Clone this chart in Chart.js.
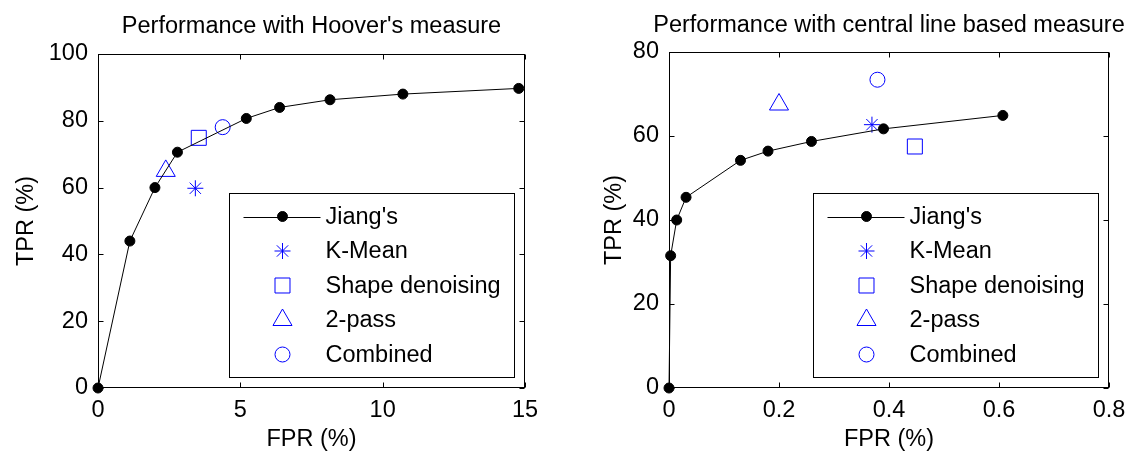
<!DOCTYPE html>
<html>
<head>
<meta charset="utf-8">
<script src="https://cdn.jsdelivr.net/npm/chart.js@4.4.0/dist/chart.umd.min.js"></script>
<style>
  html, body { margin: 0; padding: 0; background: #ffffff; }
  #wrap { position: relative; width: 1135px; height: 454px; overflow: hidden; }
  canvas { position: absolute; top: 0; }
</style>
</head>
<body>
<div id="wrap">
  <canvas id="hoover" width="567" height="454" style="left:0px"></canvas>
  <canvas id="central" width="568" height="454" style="left:567px"></canvas>
</div>
<script>
// ---- Data: Hoover's measure (FPR %, TPR %) ----
const hooverJiangFPR = [0, 1.12, 2.0, 2.79, 5.21, 6.38, 8.15, 10.71, 14.78];
const hooverJiangTPR = [0, 44.0, 60.0, 70.6, 80.7, 84.0, 86.3, 88.0, 89.7];
const hooverKMean    = [3.42, 59.8];
const hooverShape    = [3.54, 74.9];
const hoover2Pass    = [2.38, 65.0];
const hooverCombined = [4.38, 78.1];

// ---- Data: central line based measure (FPR %, TPR %) ----
const centralJiangFPR = [0, 0.003, 0.014, 0.031, 0.13, 0.18, 0.259, 0.39, 0.607];
const centralJiangTPR = [0, 31.5, 40.0, 45.4, 54.2, 56.4, 58.7, 61.7, 64.9];
const centralKMean    = [0.369, 62.7];
const centralShape    = [0.447, 57.5];
const central2Pass    = [0.2, 67.5];
const centralCombined = [0.379, 73.4];

const seriesNames = ["Jiang's", "K-Mean", "Shape denoising", "2-pass", "Combined"];
const titles = ["Performance with Hoover's measure", "Performance with central line based measure"];
const xAxisTitle = "FPR (%)";
const yAxisTitle = "TPR (%)";

// axis ranges / tick steps
const hooverXTicks = { min: 0, max: 15, step: 5 };
const hooverYTicks = { min: 0, max: 100, step: 20 };
const centralXTicks = { min: 0, max: 0.8, step: 0.2 };
const centralYTicks = { min: 0, max: 80, step: 20 };

const FONT = "'Liberation Sans', Arial, Helvetica, sans-serif";
const FS = 23.5;
const BLUE = '#0000ff';

function pairs(xs, ys) { return xs.map((x, i) => ({ x: x, y: ys[i] })); }
function single(p) { return [{ x: p[0], y: p[1] }]; }

function buildDatasets(jx, jy, km, sh, tp, cb) {
  return [
    { label: seriesNames[0], data: pairs(jx, jy), showLine: true, borderColor: '#000', borderWidth: 1,
      pointStyle: 'circle', pointRadius: 5, pointBackgroundColor: '#000', pointBorderColor: '#000', pointBorderWidth: 1 },
    { label: seriesNames[1], data: single(km), showLine: false, pointStyle: 'star', pointRadius: 8,
      pointBorderColor: BLUE, pointBackgroundColor: 'rgba(0,0,0,0)', pointBorderWidth: 1 },
    { label: seriesNames[2], data: single(sh), showLine: false, pointStyle: 'rect', pointRadius: 10.6,
      pointBorderColor: BLUE, pointBackgroundColor: 'rgba(0,0,0,0)', pointBorderWidth: 1 },
    { label: seriesNames[3], data: single(tp), showLine: false, pointStyle: 'triangle', pointRadius: 11,
      pointBorderColor: BLUE, pointBackgroundColor: 'rgba(0,0,0,0)', pointBorderWidth: 1 },
    { label: seriesNames[4], data: single(cb), showLine: false, pointStyle: 'circle', pointRadius: 7.5,
      pointBorderColor: BLUE, pointBackgroundColor: 'rgba(0,0,0,0)', pointBorderWidth: 1 }
  ];
}

// Boxed axes with inward tick marks on all four sides
const frameTicks = {
  id: 'frameTicks',
  beforeDatasetsDraw(chart, args, o) {
    const { ctx, chartArea: a, scales } = chart;
    const L = Math.round(a.left) + 0.5, R = Math.round(a.right) - 0.5;
    const T = Math.round(a.top) + 0.5, B = Math.round(a.bottom) - 0.5;
    ctx.save();
    ctx.strokeStyle = '#000';
    ctx.lineWidth = 1;
    ctx.strokeRect(L, T, R - L, B - T);
    ctx.beginPath();
    scales.x.ticks.forEach(t => {
      const px = Math.round(scales.x.getPixelForValue(t.value)) + 0.5;
      ctx.moveTo(px, B); ctx.lineTo(px, B - o.length);
      ctx.moveTo(px, T); ctx.lineTo(px, T + o.length);
    });
    scales.y.ticks.forEach(t => {
      const py = Math.round(scales.y.getPixelForValue(t.value)) + 0.5;
      ctx.moveTo(L, py); ctx.lineTo(L + o.length, py);
      ctx.moveTo(R, py); ctx.lineTo(R - o.length, py);
    });
    ctx.stroke();
    ctx.restore();
  }
};

// Plot title centred over the axes box
const plotTitle = {
  id: 'plotTitle',
  afterDraw(chart, args, o) {
    const { ctx, chartArea: a } = chart;
    ctx.save();
    ctx.font = FS + 'px ' + FONT;
    ctx.fillStyle = '#000';
    ctx.textAlign = 'center';
    ctx.textBaseline = 'alphabetic';
    ctx.fillText(o.text, (a.left + a.right) / 2 + (o.dx || 0), o.baseline);
    ctx.restore();
  }
};

function drawMarker(ctx, ds, x, y) {
  const opts = { pointStyle: ds.pointStyle, radius: ds.pointRadius, borderWidth: ds.pointBorderWidth, rotation: 0 };
  ctx.fillStyle = ds.pointBackgroundColor;
  ctx.strokeStyle = ds.pointBorderColor;
  ctx.lineWidth = ds.pointBorderWidth;
  Chart.helpers.drawPoint(ctx, opts, x, y);
}

// Legend box anchored in the lower right corner of the axes
const boxLegend = {
  id: 'boxLegend',
  afterDatasetsDraw(chart, args, o) {
    const { ctx, chartArea: a } = chart;
    const items = chart.data.datasets;
    ctx.save();
    ctx.font = FS + 'px ' + FONT;
    const maxW = Math.max(...items.map(d => ctx.measureText(d.label).width));
    const w = Math.round(o.textX + maxW + o.padRight);
    const h = Math.round(o.rowTop * 2 + o.rowGap * (items.length - 1));
    const right = Math.round(a.right - o.inset) + 0.5;
    const bottom = Math.round(a.bottom - o.inset) + 0.5;
    const left = right - w, top = bottom - h;
    ctx.fillStyle = '#fff';
    ctx.fillRect(left, top, w, h);
    ctx.strokeStyle = '#000';
    ctx.lineWidth = 1;
    ctx.strokeRect(left, top, w, h);
    items.forEach((d, i) => {
      const y = top + o.rowTop + i * o.rowGap;
      if (d.showLine) {
        ctx.beginPath();
        ctx.strokeStyle = d.borderColor;
        ctx.lineWidth = d.borderWidth;
        ctx.moveTo(left + o.lineX0, Math.round(y) + 0.5);
        ctx.lineTo(left + o.lineX1, Math.round(y) + 0.5);
        ctx.stroke();
      }
      drawMarker(ctx, d, left + o.markX, y);
      ctx.fillStyle = '#000';
      ctx.textAlign = 'left';
      ctx.textBaseline = 'middle';
      ctx.fillText(d.label, left + o.textX, y + 1);
    });
    ctx.restore();
  }
};

function makeChart(id, datasets, xr, yr, cfg) {
  return new Chart(document.getElementById(id), {
    type: 'scatter',
    data: { datasets: datasets },
    plugins: [frameTicks, boxLegend, plotTitle],
    options: {
      responsive: false,
      animation: false,
      devicePixelRatio: 1,
      layout: { padding: { left: 0, right: cfg.padRight, top: cfg.padTop, bottom: 0 } },
      elements: { line: { tension: 0 } },
      datasets: { scatter: { clip: false } },
      plugins: {
        legend: { display: false },
        tooltip: { enabled: false },
        title: { display: false },
        frameTicks: { length: 5 },
        plotTitle: { text: cfg.title, baseline: cfg.titleBaseline },
        boxLegend: { inset: 11, rowTop: 23, rowGap: 34.5, lineX0: 14, lineX1: 91, markX: 53, textX: 96, padRight: 14 }
      },
      scales: {
        x: {
          type: 'linear', min: xr.min, max: xr.max,
          grid: { display: false, drawTicks: false },
          border: { display: false },
          ticks: { stepSize: xr.step, color: '#000', padding: cfg.xTickPad, font: { family: FONT, size: FS } },
          title: { display: true, text: xAxisTitle, color: '#000', padding: { top: 0, bottom: 0 },
                   font: { family: FONT, size: FS, lineHeight: 1.2 } },
          afterFit(s) { s.height = 66; }
        },
        y: {
          type: 'linear', min: yr.min, max: yr.max,
          grid: { display: false, drawTicks: false },
          border: { display: false },
          ticks: { stepSize: yr.step, color: '#000', padding: 10, font: { family: FONT, size: FS } },
          title: { display: true, text: yAxisTitle, color: '#000', padding: { top: cfg.yTitlePad, bottom: 0 },
                   font: { family: FONT, size: FS, lineHeight: 1.2 } },
          afterFit(s) { s.width = cfg.yWidth; }
        }
      }
    }
  });
}

makeChart('hoover',
  buildDatasets(hooverJiangFPR, hooverJiangTPR, hooverKMean, hooverShape, hoover2Pass, hooverCombined),
  hooverXTicks, hooverYTicks,
  { title: titles[0], titleBaseline: 33, padRight: 42, padTop: 54, yWidth: 98, yTitlePad: 12, xTickPad: 8 });

makeChart('central',
  buildDatasets(centralJiangFPR, centralJiangTPR, centralKMean, centralShape, central2Pass, centralCombined),
  centralXTicks, centralYTicks,
  { title: titles[1], titleBaseline: 31.5, padRight: 26, padTop: 52, yWidth: 102, yTitlePad: 33, xTickPad: 8 });
</script>
</body>
</html>
